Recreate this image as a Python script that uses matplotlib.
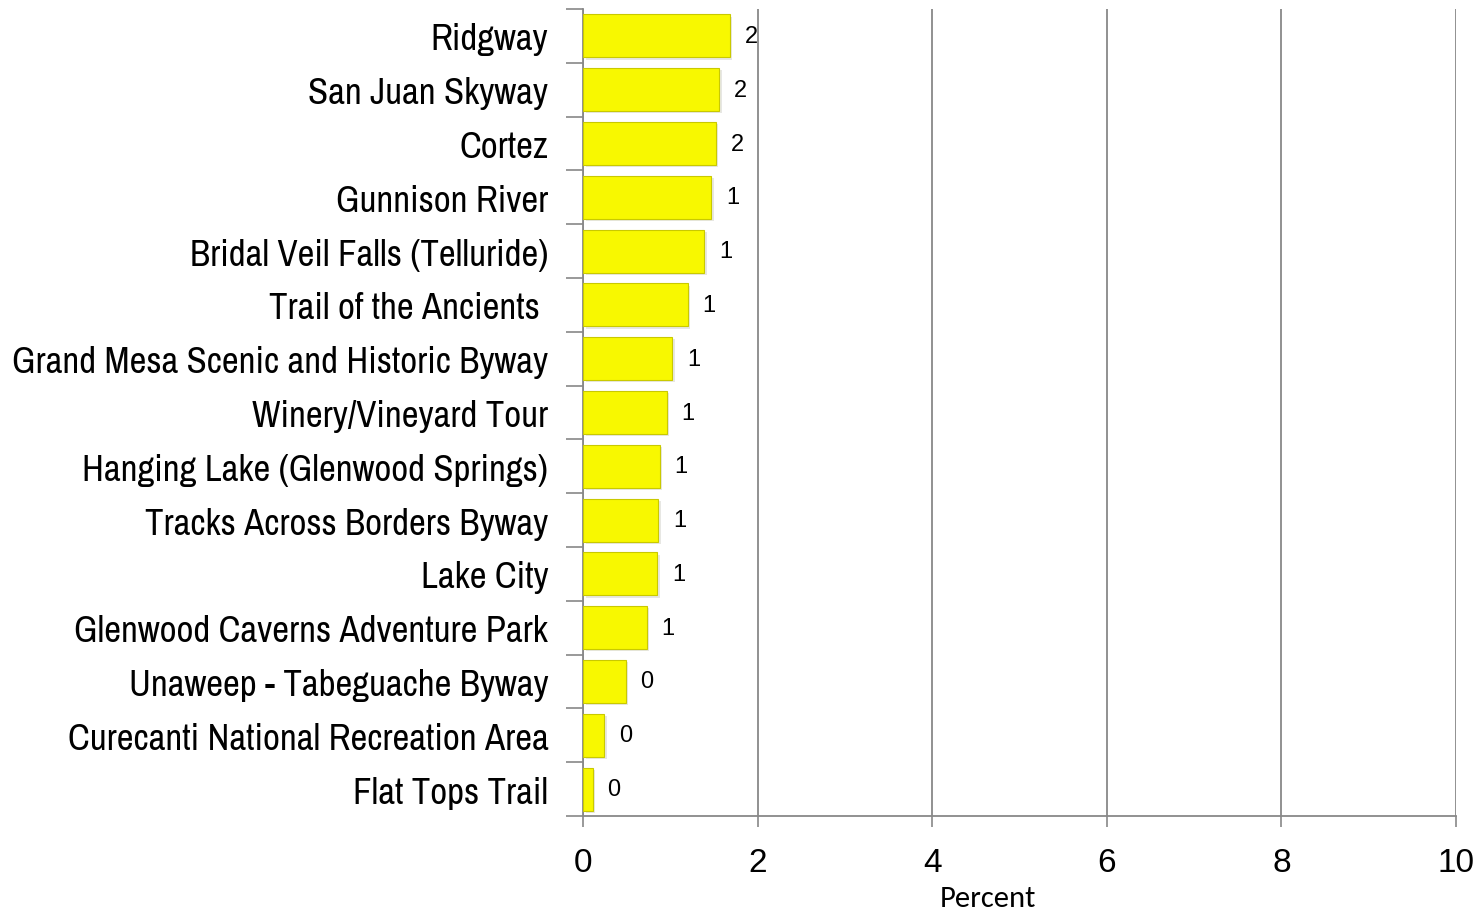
import matplotlib
matplotlib.use('Agg')
import matplotlib.pyplot as plt
import matplotlib.font_manager as fm
import numpy as np

categories = ['Ridgway', 'San Juan Skyway', 'Cortez', 'Gunnison River',
              'Bridal Veil Falls (Telluride)', 'Trail of the Ancients ',
              'Grand Mesa Scenic and Historic Byway', 'Winery/Vineyard Tour',
              'Hanging Lake (Glenwood Springs)', 'Tracks Across Borders Byway',
              'Lake City', 'Glenwood Caverns Adventure Park',
              'Unaweep - Tabeguache Byway', 'Curecanti National Recreation Area',
              'Flat Tops Trail']
values = [1.68, 1.56, 1.52, 1.47, 1.39, 1.20, 1.02, 0.96, 0.88, 0.86,
          0.85, 0.73, 0.49, 0.24, 0.11]
xticks = [0, 2, 4, 6, 8, 10]

names = {f.name for f in fm.fontManager.ttflist}


def pick(options):
    for o in options:
        if o in names:
            return o
    return 'DejaVu Sans'


label_font = pick(['Liberation Sans Narrow', 'Arial Narrow', 'Archivo Narrow',
                   'PT Sans Narrow', 'Roboto Condensed', 'Encode Sans Condensed',
                   'IBM Plex Sans Condensed', 'Open Sans Condensed'])
num_font = pick(['Liberation Sans', 'Arimo', 'DejaVu Sans'])
pct_font = pick(['Carlito', 'Calibri', 'Open Sans', 'DejaVu Sans'])

fig = plt.figure(figsize=(14.82, 9.12), dpi=100)
ax = fig.add_axes([583 / 1482, 1 - 817 / 912, (1456 - 583) / 1482, (817 - 10) / 912])

y = np.arange(len(categories))[::-1]
# soft shadow then bar
ax.barh(y - 0.04, values, left=0.03, height=0.8, color='#d0d0c8', alpha=0.5, zorder=2)
ax.barh(y, values, height=0.8, color='#f8f800', edgecolor='#c9c900', linewidth=0.8, zorder=3)

for yi, v in zip(y, values):
    ax.text(v + 0.17, yi, '%d' % round(v), va='center', ha='left',
            fontsize=17, family=num_font, zorder=4)

ax.set_xlim(0, 10)
ax.set_ylim(-0.5, len(categories) - 0.5)
ax.set_xticks(xticks)
ax.set_xticklabels([str(t) for t in xticks], fontsize=24, family=num_font)
ax.tick_params(axis='x', length=8, width=1.2, color='#888888', pad=14)

ax.set_yticks(y)
ax.set_yticklabels(categories, fontsize=26.5, family=label_font)
ax.set_yticks(np.arange(len(categories) + 1) - 0.5, minor=True)
ax.tick_params(axis='y', which='major', length=0, pad=25)
ax.tick_params(axis='y', which='minor', length=12, width=1.2, color='#888888')

ax.grid(axis='x', color='#888888', linewidth=1.3, zorder=0)
ax.set_axisbelow(True)
for s in ['top', 'right']:
    ax.spines[s].set_visible(False)
for s in ['left', 'bottom']:
    ax.spines[s].set_color('#888888')
    ax.spines[s].set_linewidth(1.3)

ax.set_xlabel('Percent', fontsize=22, family=pct_font, labelpad=0)
ax.xaxis.set_label_coords(0.464, -0.085)

fig.savefig('out.png', dpi=100)
